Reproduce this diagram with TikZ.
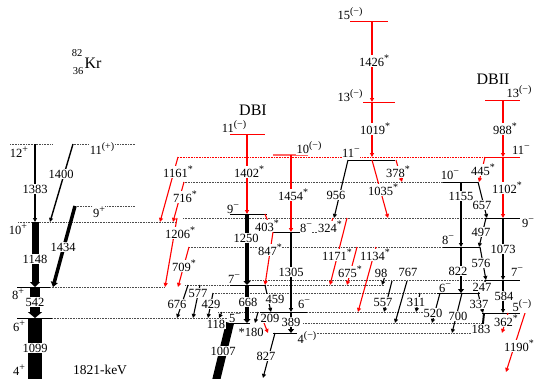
\documentclass[tikz,border=0pt]{standalone}
\usepackage{fontspec}
\setmainfont{Liberation Serif}
\usetikzlibrary{arrows.meta}
\newcommand\Sp[1]{\raisebox{0.4em}{\fontsize{10}{10}\selectfont #1}}
\newcommand\Mn{\Sp{−}}
\newcommand\Pmn{\Sp{(−)}}
\newcommand\St{\Sp{*}}
\newcommand\Pl{\Sp{+}}
\newcommand\Seg[4]{\coordinate (#1a) at (#3); \coordinate (#1b) at (#4); \draw[#2] (#1a) -- (#1b);}
\tikzset{
  lab/.style={fill=white, inner sep=0.5pt, font=\fontsize{12.5}{13}\selectfont},
  lvl/.style={line width=1pt},
  rlvl/.style={line width=0.9pt, red},
  dt/.style={line width=0.6pt, black!70, dash pattern=on 0.8pt off 0.8pt},
  rdt/.style={dt, red},
  ar/.style={line width=1.1pt, -{Triangle[length=4pt,width=4pt]}},
  rar/.style={ar, red},
}
\begin{document}
\begin{tikzpicture}[x=1pt,y=-1pt]
\useasboundingbox (0,0) rectangle (535,378);
\clip (0,0) rectangle (535,378);
% dotted reference lines
\Seg{d1}{dt}{10,144}{52,144}
\Seg{d2}{dt}{72,144}{135,144}
\Seg{d3}{dt}{18,222}{175,222}
\Seg{d4}{dt}{75,206}{135,206}
\Seg{d5}{dt}{50,287}{165,287}
\Seg{d6}{dt}{52,318}{228,318}
\Seg{d7}{rdt}{178,157}{485,157}
\Seg{d8}{dt}{183,182}{443,182}
\Seg{d9}{dt}{183,218}{485,218}
\Seg{d10}{dt}{302,232}{330,232}
\Seg{d11}{dt}{189,247}{443,247}
\Seg{d12}{dt}{247,280}{485,280}
\Seg{d13}{dt}{185,285}{230,285}
\Seg{d14}{dt}{265,285}{384,285}
\Seg{d15}{dt}{213,293}{437,293}
\Seg{d16}{dt}{218,312}{260,312}
\Seg{d17}{dt}{307,312}{427,312}
\Seg{d18}{dt}{303,323}{482,323}
\Seg{d19}{dt}{307,333}{472,333}
% levels
\Seg{l8p}{lvl}{17,287}{50,287}
\Seg{l6p}{lvl}{17,318}{52,318}
\Seg{l11a}{rlvl}{230,134}{265,134}
\Seg{l10m}{red!60, line width=2.5pt}{273,155}{308,155}
\Seg{l15}{rlvl}{350,21}{388,21}
\Seg{l13}{rlvl}{349,102}{395,102}
\Seg{l13b}{rlvl}{485,100}{520,100}
\Seg{l11b}{rlvl}{485,157}{520,157}
\Seg{l11c}{lvl}{348,160}{395,160}
\Seg{l9a}{lvl}{230,214}{267,214}
\Seg{l8a}{lvl}{273,232}{302,232}
\Seg{l7a}{lvl}{230,285}{265,285}
\Seg{l6a}{lvl}{260,312}{307,312}
\Seg{l5a}{lvl}{225,323}{250,323}
\Seg{l4a}{lvl}{273,333}{307,333}
\Seg{l10b}{lvl}{443,182}{478,182}
\Seg{l9b}{lvl}{485,218}{520,218}
\Seg{l8b}{lvl}{443,247}{480,247}
\Seg{l7b}{lvl}{485,280}{520,280}
\Seg{l6b}{lvl}{437,293}{480,293}
\Seg{l5b}{lvl}{482,313}{520,313}
% left band transitions
\Seg{t1383}{ar, line width=2pt}{35,144}{35,222}
\Seg{t1400}{ar, line width=1.4pt}{73,144}{50,222}
\Seg{t1434}{line width=3.5pt, -{Triangle[length=5pt,width=7pt]}}{75,206}{53,287}
\Seg{t1148}{line width=7pt, -{Triangle[length=5pt,width=10pt]}}{35,222}{35,287}
\Seg{t542}{line width=10pt, -{Triangle[length=6pt,width=14pt]}}{35,287}{35,318}
\Seg{t1099}{line width=14pt}{35,318}{35,392}
% red transitions
\Seg{t1402}{rar}{247,134}{247,214}
\Seg{t1161}{rar}{178,157}{160,222}
\Seg{t716}{rar}{184,182}{173,222}
\Seg{t1206}{rar}{177,218}{165,287}
\Seg{t709}{rar}{189,247}{178,287}
\Seg{t1454}{rar}{291,155}{291,232}
\Seg{t403}{rar}{265,214}{272,232}
\Seg{t847}{rar}{273,232}{265,285}
\Seg{t1426}{rar}{372,21}{372,102}
\Seg{t1019}{rar}{372,102}{372,157}
\Seg{t1035}{rar}{372,160}{388,218}
\Seg{t378}{rar}{396,160}{402,182}
\Seg{t324}{rar}{333,218}{328,232}
\Seg{t1171}{rar}{347,218}{330,285}
\Seg{t675}{rar}{357,247}{347,285}
\Seg{t1134}{rar}{376,247}{358,312}
\Seg{t180}{rar}{264,323}{268,333}
\Seg{t988}{rar}{503,100}{503,157}
\Seg{t1102}{rar}{503,157}{503,218}
\Seg{t445}{rar}{485,157}{479,182}
\Seg{t362}{rar}{508,313}{502,333}
\Seg{t1190}{rar}{525,313}{506,372}
% black transitions
\Seg{t1250}{line width=4pt, -{Triangle[length=4pt,width=7pt]}}{247,214}{247,285}
\Seg{t668}{line width=4pt, -{Triangle[length=4pt,width=7pt]}}{247,285}{247,323}
\Seg{t1007}{line width=8pt}{230,323}{215,385}
\Seg{t118}{ar}{222,312}{219,318}
\Seg{t429}{ar}{213,293}{208,318}
\Seg{t577}{ar}{200,285}{193,318}
\Seg{t676}{ar}{188,285}{177,318}
\Seg{t459}{ar}{265,285}{271,312}
\Seg{t209}{ar}{258,312}{255,323}
\Seg{t1305}{ar}{291,232}{291,312}
\Seg{t389}{line width=2.5pt, -{Triangle[length=4pt,width=6pt]}}{291,312}{291,333}
\Seg{t827}{ar}{275,333}{263,378}
\Seg{t956}{ar}{348,160}{334,218}
\Seg{t98}{ar}{385,276}{382,285}
\Seg{t557}{ar}{392,281}{384,312}
\Seg{t767}{ar}{407,281}{395,323}
\Seg{t311}{ar}{420,293}{416,312}
\Seg{t520}{ar}{440,293}{432,323}
\Seg{t700}{ar}{462,293}{452,333}
\Seg{t822}{line width=2.7pt, -{Triangle[length=4pt,width=6pt]}}{461,247}{461,293}
\Seg{t1155}{ar, line width=2pt}{461,182}{461,247}
\Seg{t657}{ar}{478,182}{487,218}
\Seg{t497}{ar}{486,218}{479,247}
\Seg{t576}{ar}{480,247}{486,280}
\Seg{t247}{ar}{486,280}{478,293}
\Seg{t337}{ar}{478,293}{483,313}
\Seg{t183}{ar, line width=2pt}{484,313}{482,333}
\Seg{t1073}{ar, line width=2pt}{503,218}{503,280}
\Seg{t584}{ar, line width=2pt}{503,280}{503,313}
% labels
\node[lab] (n12p) at (19,152) {12\Pl};
\node[lab] (n11p) at (102,149) {11\Sp{(+)}};
\node[lab] (n1383) at (35,189) {1383};
\node[lab] (n1400) at (61,174) {1400};
\node[lab] (n10p) at (18,229) {10\Pl};
\node[lab] (n9p) at (99,212) {9\Pl};
\node[lab] (n1434) at (63,247) {1434};
\node[lab] (n1148) at (35,259) {1148};
\node[lab] (n8p) at (18,294) {8\Pl};
\node[lab] (n542) at (35,302) {542};
\node[lab] (n6p) at (19,326) {6\Pl};
\node[lab] (n1099) at (35,348) {1099};
\node[lab] (n4p) at (19,370) {4\Pl};
\node[lab, font=\fontsize{13.5}{14}\selectfont] (nkev) at (100,370) {1821-keV};
\node[font=\fontsize{10.5}{10}\selectfont, inner sep=0] (nA) at (77,53) {82};
\node[font=\fontsize{10.5}{10}\selectfont, inner sep=0] (nZ) at (78,71) {36};
\node[font=\fontsize{16}{16}\selectfont, inner sep=0] (nKr) at (93,63) {Kr};
\node[font=\fontsize{16}{16}\selectfont, inner sep=0] (nDBI) at (253,110) {DBI};
\node[font=\fontsize{16}{16}\selectfont, inner sep=0] (nDBII) at (493,79) {DBII};
\node[lab] (n11a) at (234,127) {11\Pmn};
\node[lab] (n1402) at (249,172) {1402\St};
\node[lab] (n10m) at (309,148) {10\Pmn};
\node[lab] (n1161) at (178,172) {1161\St};
\node[lab] (n716) at (185,197) {716\St};
\node[lab] (n1206) at (180,233) {1206\St};
\node[lab] (n709) at (184,266) {709\St};
\node[lab] (n9a) at (233,209) {9\Mn};
\node[lab] (n1250) at (246,238) {1250};
\node[lab] (n403) at (267,226) {403\St};
\node[lab] (n847) at (270,250) {847\St};
\node[lab] (n1454) at (293,195) {1454\St};
\node[lab] (n8a) at (306,228) {8\Mn};
\node[lab] (n324) at (330,227) {324\St};
\node[lab] (n956) at (336,195) {956};
\node[lab] (n11c) at (351,153) {11\Mn};
\node[lab] (n1035) at (383,190) {1035\St};
\node[lab] (n378) at (398,172) {378\St};
\node[lab] (n15) at (350,14) {15\Pmn};
\node[lab] (n1426) at (374,61) {1426\St};
\node[lab] (n13) at (350,96) {13\Pmn};
\node[lab] (n1019) at (375,129) {1019\St};
\node[lab] (n1305) at (291,272) {1305};
\node[lab] (n1171) at (337,255) {1171\St};
\node[lab] (n675) at (350,272) {675\St};
\node[lab] (n1134) at (375,255) {1134\St};
\node[lab] (n98) at (381,273) {98};
\node[lab] (n767) at (408,272) {767};
\node[lab] (n7a) at (234,279) {7\Mn};
\node[lab] (n676) at (177,304) {676};
\node[lab] (n577) at (198,293) {577};
\node[lab] (n429) at (211,304) {429};
\node[lab] (n668) at (248,302) {668};
\node[lab] (n459) at (275,299) {459};
\node[lab] (n118) at (216,324) {118};
\node[lab] (n5a) at (235,318) {5\Mn};
\node[lab] (n209) at (270,318) {209};
\node[lab] (n180) at (251,332) {*180};
\node[lab] (n6a) at (304,304) {6\Mn};
\node[lab] (n389) at (291,322) {389};
\node[lab] (n4a) at (307,338) {4\Pmn};
\node[lab] (n1007) at (223,351) {1007};
\node[lab] (n827) at (266,356) {827};
\node[lab] (n557) at (383,302) {557};
\node[lab] (n311) at (416,302) {311};
\node[lab] (n520) at (433,313) {520};
\node[lab] (n700) at (458,316) {700};
\node[lab] (n822) at (458,271) {822};
\node[lab] (n6b) at (445,288) {6\Mn};
\node[lab] (n8b) at (448,240) {8\Mn};
\node[lab] (n1155) at (461,196) {1155};
\node[lab] (n10b) at (450,175) {10\Mn};
\node[lab] (n445) at (483,170) {445\St};
\node[lab] (n657) at (482,205) {657};
\node[lab] (n497) at (481,232) {497};
\node[lab] (n576) at (481,263) {576};
\node[lab] (n247) at (482,287) {247};
\node[lab] (n337) at (479,304) {337};
\node[lab] (n183) at (481,329) {183};
\node[lab] (n362) at (506,321) {362\St};
\node[lab] (n584) at (504,296) {584};
\node[lab] (n1073) at (503,249) {1073};
\node[lab] (n5b) at (522,306) {5\Pmn};
\node[lab] (n1190) at (519,346) {1190\St};
\node[lab] (n7b) at (517,272) {7\Mn};
\node[lab] (n9b) at (528,223) {9\Mn};
\node[lab] (n1102) at (507,188) {1102\St};
\node[lab] (n11b) at (521,150) {11\Mn};
\node[lab] (n988) at (505,129) {988\St};
\node[lab] (n13b) at (519,92) {13\Pmn};
\end{tikzpicture}
\end{document}
